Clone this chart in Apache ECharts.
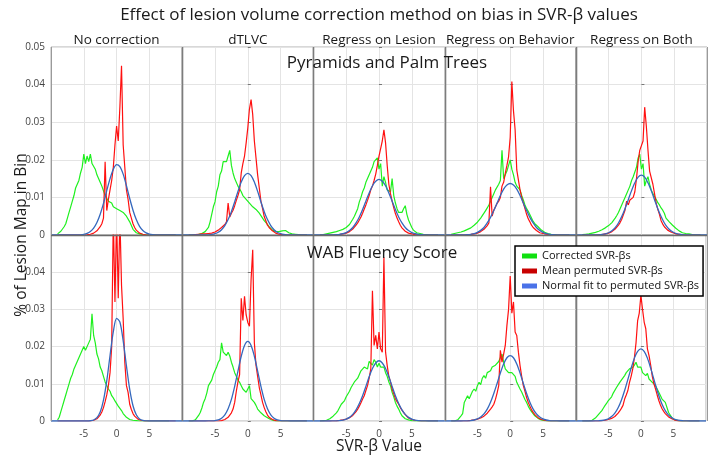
<!DOCTYPE html>
<html>
<head>
<meta charset="utf-8">
<script src="https://cdn.jsdelivr.net/npm/echarts@6/dist/echarts.min.js"></script>
<style>
  html, body { margin: 0; padding: 0; background: #fff; }
  #chart { width: 709px; height: 460px; }
</style>
</head>
<body>
<div id="chart"></div>
<script>
// ---- labels ----
const chartTitle = 'Effect of lesion volume correction method on bias in SVR-β values'
const methods = ['No correction', 'dTLVC', 'Regress on Lesion', 'Regress on Behavior', 'Regress on Both']
const tasks = ['Pyramids and Palm Trees', 'WAB Fluency Score']
const seriesNames = ['Corrected SVR-βs', 'Mean permuted SVR-βs', 'Normal fit to permuted SVR-βs']

// ---- data: bins of 0.25 from -9 to 9 (green, red); fit on 0.5 steps from -10 to 10 (blue)
// values are in units of 0.001 (% of lesion map in bin)
const greenT1 = [0.3,0.5,1.0,1.5, 2.2,3.0,4.5,6.0, 7.5,9.0,10.5,12.5, 13.5,14.5,16.5,18.0, 21.5,19.0,21.0,19.5, 21.5,19.0,18.5,17.5, 16.0,15.0,14.0,13.0, 12.5,10.5,10.0,9.0, 8.5,8.5,7.5,8.0, 7.0,7.5,6.5,7.0, 6.0,6.5,5.0,4.5, 3.5,2.5,1.5,1.0, 0.6,0.4,0.3,0.2, 0.1,0.1,0,0, 0,0,0,0, 0,0,0,0, 0,0,0,0, 0,0,0,0, 0]
const redT1 = [0,0,0,0, 0,0,0,0, 0,0,0,0, 0,0,0,0, 0,0,0.05,0.1, 0.2,0.3,0.5,0.8, 1.1,1.6,2.2,3.0, 4.5,19.5,6.5,9.5, 12.0,14.5,18.0,24.0, 29.0,25.0,34.0,45.0, 24.0,18.0,12.0,9.5, 6.0,4.5,3.0,2.0, 1.3,0.8,0.5,0.3, 0.2,0.1,0,0, 0,0,0,0, 0,0,0,0, 0,0,0,0, 0,0,0,0, 0]
const greenT2 = [0,0,0,0.1, 0.1,0.2,0.2,0.3, 0.4,0.6,0.9,1.2, 2.0,3.5,5.5,7.5, 8.8,11.5,13.0,16.0, 17.0,19.5,20.0,19.5, 21.0,22.5,18.5,16.5, 15.0,14.5,13.0,12.5, 11.5,10.5,10.5,9.5, 9.5,8.5,8.5,7.5, 7.5,6.8,6.5,5.8, 5.3,4.5,3.8,3.4, 2.8,2.2,1.7,1.3, 1.1,0.9,0.8,0.9, 1.0,1.1,1.3,1.2, 0.9,0.6,0.4,0.3, 0.3,0.2,0.1,0.1, 0,0,0,0, 0]
const redT2 = [0,0,0,0, 0.1,0.2,0.2,0.2, 0.3,0.3,0.3,0.4, 0.4,0.4,0.5,0.6, 0.8,1.0,1.3,1.6, 2.0,2.4,2.8,3.5, 8.5,4.8,5.8,6.6, 7.8,9.2,10.5,12.0, 16.5,19.0,21.0,24.5, 28.5,33.5,36.0,32.0, 25.0,20.5,16.0,12.5, 9.0,7.0,4.9,3.8, 2.6,2.0,1.5,1.1, 0.7,0.5,0.3,0.2, 0.1,0.1,0,0, 0,0,0,0, 0,0,0,0, 0,0,0,0, 0]
const greenT3 = [0,0.1,0.1,0.2, 0.3,0.4,0.5,0.6, 0.7,0.8,0.9,1.0, 1.2,1.4,1.5,1.7, 2.0,2.4,2.8,3.2, 4.2,5.0,6.0,7.0, 8.8,10.0,11.5,12.5, 14.0,15.0,15.5,17.0, 18.0,19.5,19.0,20.5, 17.5,19.0,13.0,15.5, 14.0,12.0,12.5,11.5, 15.0,10.5,8.5,7.0, 6.0,5.5,6.0,7.0, 7.8,5.5,4.0,3.0, 2.0,1.3,0.9,0.6, 0.5,0.4,0.3,0.2, 0.1,0.1,0,0, 0,0,0,0, 0]
const redT3 = [0,0,0,0, 0,0,0,0, 0,0,0.05,0.1, 0.15,0.2,0.3,0.4, 0.5,0.7,0.9,1.2, 1.6,2.0,2.6,3.2, 4.0,4.8,5.8,6.9, 8.0,9.2,10.5,12.0, 13.0,14.5,16.2,18.5, 21.0,23.0,25.0,28.0, 24.5,18.5,13.5,11.0, 9.0,7.2,5.7,4.5, 3.5,2.6,1.9,1.4, 1.0,0.7,0.5,0.4, 0.3,0.2,0.1,0.1, 0,0,0,0, 0,0,0,0, 0,0,0,0, 0]
const greenT4 = [0.2,0.3,0.4,0.5, 0.6,0.7,0.8,0.9, 1.1,1.3,1.5,1.7, 1.9,2.2,2.6,3.0, 3.4,3.9,4.5,5.0, 5.8,6.5,7.2,8.0, 9.0,9.5,11.0,12.0, 12.5,13.5,14.5,22.5, 15.0,15.5,17.0,18.5, 20.0,17.5,16.0,14.0, 13.0,12.5,12.0,10.5, 9.3,8.0,7.0,6.3, 5.8,4.5,3.6,3.0, 2.6,2.2,1.7,1.3, 0.9,0.7,0.5,0.4, 0.3,0.2,0.2,0.1, 0.1,0,0,0, 0,0,0,0, 0]
const redT4 = [0,0,0,0, 0,0,0,0, 0,0,0.05,0.1, 0.15,0.2,0.3,0.4, 0.5,0.7,0.9,1.2, 1.5,2.0,2.5,3.2, 12.8,5.0,6.6,7.5, 8.4,9.0,10.0,13.0, 14.0,16.4,18.5,20.8, 26.0,40.8,33.0,28.0, 17.3,17.0,12.0,10.0, 8.5,7.0,5.5,4.3, 3.5,2.6,2.0,1.5, 1.2,0.8,0.6,0.5, 0.4,0.3,0.2,0.1, 0.1,0,0,0, 0,0,0,0, 0,0,0,0, 0]
const greenT5 = [0.1,0.1,0.2,0.2, 0.3,0.4,0.5,0.6, 0.7,0.8,1.0,1.2, 1.4,1.6,1.9,2.2, 2.5,2.9,3.3,3.8, 4.5,5.2,6.0,7.0, 8.0,9.0,10.0,11.0, 12.0,13.0,14.5,15.5, 16.0,18.0,20.5,21.5, 17.5,19.0,13.0,14.5, 15.5,13.5,12.0,11.0, 10.2,9.5,8.6,8.0, 7.2,6.6,5.8,4.5, 4.0,3.5,3.0,2.6, 2.2,1.8,1.4,1.1, 0.8,0.6,0.5,0.4, 0.3,0.3,0.2,0.1, 0.1,0,0,0, 0]
const redT5 = [0,0,0,0, 0,0,0,0, 0,0,0.05,0.1, 0.1,0.2,0.3,0.4, 0.5,0.7,0.9,1.2, 1.6,2.0,2.6,3.3, 4.2,5.4,6.6,9.0, 8.0,9.3,9.6,10.0, 11.5,15.0,19.5,22.5, 22.0,25.0,34.0,29.0, 22.6,17.0,17.0,13.5, 11.0,8.5,6.8,5.5, 3.8,2.9,2.2,1.7, 1.3,1.0,0.8,0.6, 0.45,0.35,0.25,0.15, 0.1,0,0,0, 0,0,0,0, 0,0,0,0, 0]

const greenB1 = [0.3,1.0,2.5,4.0, 5.5,7.0,8.5,10.0, 11.5,12.5,14.0,15.0, 16.0,17.0,18.0,17.5, 20.0,19.0,18.5,21.0, 22.0,28.8,23.0,21.0, 18.0,16.7,14.5,13.5, 12.0,10.5,10.0,8.6, 8.0,6.8,6.2,5.4, 5.0,4.0,3.4,2.8, 2.0,1.5,1.0,0.6, 0.4,0.3,0.2,0.1, 0.1,0,0,0, 0,0,0,0, 0,0,0,0, 0,0,0,0, 0,0,0,0, 0]
const redB1 = [0,0,0,0, 0,0,0,0, 0,0,0,0, 0,0,0,0, 0,0,0,0, 0.05,0.1,0.2,0.3, 0.6,1.0,1.6,2.4, 3.6,5.2,7.0,9.5, 13.0,20.0,55.0,32.0, 55.0,33.0,55.0,36.5, 27.5,15.8,9.5,7.7, 4.5,3.1,2.0,1.3, 0.9,0.5,0.3,0.2, 0.1,0,0,0, 0,0,0,0, 0,0,0,0, 0,0,0,0, 0,0,0,0, 0]
const greenB2 = [0,0,0,0, 0.3,0.8,1.5,2.3, 3.5,5.0,6.0,7.5, 9.5,10.0,11.0,12.5, 13.5,14.5,15.8,16.5, 21.0,18.5,19.0,17.6, 18.5,17.5,15.8,14.5, 13.0,12.0,11.0,10.4, 9.5,8.6,8.5,7.7, 8.0,9.5,6.0,5.9, 5.0,4.2,3.2,2.8, 2.2,1.8,1.4,1.1, 0.9,0.6,0.4,0.2, 0.1,0,0,0, 0,0,0,0, 0,0,0,0, 0,0,0,0, 0,0,0,0, 0]
const redB2 = [0,0,0,0, 0,0,0,0, 0,0,0,0, 0,0,0,0, 0,0,0,0, 0.1,0.2,0.4,0.6, 1.0,1.5,2.2,3.2, 5.0,8.0,10.5,12.5, 33.0,27.0,33.5,28.5, 26.5,25.5,38.0,46.0, 21.0,15.0,12.0,9.0, 7.0,5.0,3.6,2.5, 1.6,1.0,0.6,0.4, 0.2,0.1,0,0, 0,0,0,0, 0,0,0,0, 0,0,0,0, 0,0,0,0, 0]
const greenB3 = [0,0,0.1,0.1, 0.2,0.4,0.6,0.9, 1.3,1.8,2.2,2.8, 3.2,4.5,4.0,5.5, 6.5,7.0,8.0,9.0, 9.0,10.5,10.0,11.5, 12.5,13.5,13.0,14.5, 15.0,14.0,16.0,15.5, 15.0,16.5,15.8,14.5, 15.5,14.5,14.0,14.5, 13.0,12.0,10.5,9.5, 7.7,6.5,5.0,4.0, 3.2,2.2,1.4,1.0, 0.6,0.4,0.3,0.2, 0.1,0,0,0, 0,0,0,0, 0,0,0,0, 0,0,0,0, 0]
const redB3 = [0,0,0,0, 0,0,0,0, 0,0,0.05,0.1, 0.15,0.2,0.3,0.4, 0.5,0.7,0.9,1.2, 1.5,2.0,2.5,3.2, 4.0,4.9,5.9,6.8, 8.2,9.5,11.5,14.0, 35.0,20.3,23.0,19.4, 23.9,19.4,18.5,44.0, 18.5,14.9,12.0,10.5, 8.6,7.3,6.0,5.2, 4.5,3.6,2.9,2.3, 1.7,1.2,0.8,0.6, 0.4,0.3,0.2,0.1, 0.1,0,0,0, 0,0,0,0, 0,0,0,0, 0]
const greenB4 = [0,0,0,0.1, 0.3,0.8,1.4,2.0, 5.0,4.5,6.8,6.0, 7.0,8.0,8.6,8.0, 9.5,10.4,9.8,11.5, 12.2,11.5,13.0,12.5, 13.5,14.5,14.0,15.0, 15.3,16.0,15.5,18.0, 15.8,14.0,14.5,13.0, 13.5,13.0,13.5,12.0, 10.4,10.0,8.6,7.8, 6.8,5.8,5.0,4.0, 3.2,2.5,2.0,1.4, 1.0,0.7,0.5,0.3, 0.2,0.1,0,0, 0,0,0,0, 0,0,0,0, 0,0,0,0, 0]
const redB4 = [0,0,0,0, 0,0,0,0, 0,0,0.05,0.1, 0.15,0.2,0.3,0.4, 0.5,0.6,0.8,1.0, 1.3,1.7,2.1,2.6, 3.2,3.8,4.5,5.8, 7.5,9.5,19.0,15.8, 18.0,20.3,25.7,30.0, 39.0,29.0,32.0,23.9, 23.0,18.5,14.9,12.0, 9.5,8.0,6.3,5.0, 4.0,3.0,2.3,1.7, 1.2,0.9,0.6,0.4, 0.3,0.2,0.1,0.05, 0,0,0,0, 0,0,0,0, 0,0,0,0, 0]
const greenB5 = [0,0,0,0, 0,0.1,0.2,0.3, 0.8,1.2,1.8,2.3, 2.8,3.5,4.2,4.8, 5.5,5.0,6.5,7.5, 7.7,9.0,8.5,10.4, 11.0,11.5,12.2,13.0, 12.5,14.0,13.5,14.4, 15.0,15.8,14.5,14.0, 14.5,13.0,12.5,12.2, 12.8,11.3,11.0,10.4, 10.8,9.5,9.0,7.7, 7.5,5.9,6.0,5.0, 5.5,2.3,1.8,0.9, 0.6,0.3,0.2,0.1, 0,0,0,0, 0,0,0,0, 0,0,0,0, 0]
const redB5 = [0,0,0,0, 0,0,0,0, 0,0,0,0.05, 0.1,0.15,0.2,0.3, 0.4,0.5,0.7,0.9, 1.2,1.6,2.1,2.7, 3.4,4.2,5.9,7.0, 8.2,10.4,12.0,14.0, 17.0,21.0,27.0,29.0, 33.8,30.0,26.6,24.8, 19.4,17.6,15.0,12.0, 10.0,8.6,7.0,5.5, 4.3,3.3,2.6,2.0, 1.5,1.1,0.8,0.6, 0.4,0.2,0.1,0.05, 0,0,0,0, 0,0,0,0, 0,0,0,0, 0]

const blueT1 = [0,0,0,0,0,0,0,0,0.02,0.06,0.17,0.41,0.9,1.8,3.3,5.5,8.4,11.8,15.0,17.5,18.7,18.2,16.2,13.1,9.7,6.6,4.1,2.3,1.2,0.57,0.25,0.1,0.04,0.01,0,0,0,0,0,0,0]
const blueT2 = [0,0,0,0,0,0,0,0.02,0.06,0.15,0.35,0.72,1.4,2.5,4.1,6.2,8.8,11.6,14.1,15.8,16.4,15.8,14.1,11.6,8.8,6.2,4.1,2.5,1.4,0.72,0.35,0.15,0.06,0.02,0,0,0,0,0,0,0]
const blueT3 = [0,0,0,0,0,0.01,0.03,0.08,0.16,0.34,0.65,1.18,2.0,3.2,4.8,6.8,9.0,11.2,13.1,14.3,14.8,14.3,13.1,11.2,9.0,6.8,4.8,3.2,2.0,1.18,0.65,0.34,0.16,0.08,0.03,0.01,0,0,0,0,0]
const blueT4 = [0,0,0,0,0.01,0.02,0.04,0.09,0.19,0.37,0.7,1.23,2.0,3.2,4.7,6.5,8.5,10.5,12.2,13.3,13.7,13.3,12.2,10.5,8.5,6.5,4.7,3.2,2.0,1.23,0.7,0.37,0.19,0.09,0.04,0.02,0.01,0,0,0,0]
const blueT5 = [0,0,0,0,0,0,0.02,0.06,0.14,0.3,0.59,1.11,1.94,3.2,4.9,7.0,9.4,11.8,13.9,15.4,15.9,15.4,13.9,11.8,9.4,7.0,4.9,3.2,1.94,1.11,0.59,0.3,0.14,0.06,0.02,0,0,0,0,0,0]
const blueB1 = [0,0,0,0,0,0,0,0,0,0,0,0,0.07,0.27,0.89,2.4,5.6,10.8,17.6,24.0,27.6,26.6,21.6,14.8,8.5,4.1,1.66,0.56,0.16,0.04,0,0,0,0,0,0,0,0,0,0,0]
const blueB2 = [0,0,0,0,0,0,0,0,0.01,0.04,0.12,0.31,0.76,1.67,3.3,5.8,9.3,13.4,17.4,20.3,21.4,20.3,17.4,13.4,9.3,5.8,3.3,1.67,0.76,0.31,0.12,0.04,0.01,0,0,0,0,0,0,0,0]
const blueB3 = [0,0,0,0,0,0,0.02,0.05,0.11,0.25,0.51,0.98,1.77,3.0,4.7,6.8,9.3,11.9,14.1,15.6,16.2,15.6,14.1,11.9,9.3,6.8,4.7,3.0,1.77,0.98,0.51,0.25,0.11,0.05,0.02,0,0,0,0,0,0]
const blueB4 = [0,0,0,0,0,0,0.02,0.05,0.12,0.27,0.55,1.07,1.92,3.2,5.05,7.4,10.1,12.9,15.3,17.0,17.6,17.0,15.3,12.9,10.1,7.4,5.05,3.2,1.92,1.07,0.55,0.27,0.12,0.05,0.02,0,0,0,0,0,0]
const blueB5 = [0,0,0,0,0,0,0.02,0.06,0.13,0.29,0.61,1.18,2.1,3.55,5.6,8.2,11.2,14.2,16.9,18.7,19.4,18.7,16.9,14.2,11.2,8.2,5.6,3.55,2.1,1.18,0.61,0.29,0.13,0.06,0.02,0,0,0,0,0,0]

const greens = [greenT1, greenT2, greenT3, greenT4, greenT5, greenB1, greenB2, greenB3, greenB4, greenB5]
const reds = [redT1, redT2, redT3, redT4, redT5, redB1, redB2, redB3, redB4, redB5]
const blues = [blueT1, blueT2, blueT3, blueT4, blueT5, blueB1, blueB2, blueB3, blueB4, blueB5]

// bin centres
const binX = Array.from({ length: 73 }, (_, i) => -9 + i * 0.25)
const fitX = Array.from({ length: 41 }, (_, i) => -10 + i * 0.5)

// ---- colours / layout ----
const colors = {
  green: '#1ff01f',
  red: '#ff1010',
  blue: '#3568bd',
  legendGreen: '#10e010',
  legendRed: '#c80000',
  legendBlue: '#4a72e8',
  split: '#e4e4e4',
  frame: '#7c7c7c',
  text: '#1a1a1a'
}
const font = '"Open Sans", "Noto Sans", sans-serif'
const plotLeft = 51
const panelW = 131.2
const rowTop = [47, 235]
const rowH = [188, 186]

const toPairs = (xs, ys) => ys.map((v, i) => [xs[i], v / 1000])

const grids = []
const xAxes = []
const yAxes = []
const series = []

for (let r = 0; r < 2; r++) {
  for (let c = 0; c < 5; c++) {
    const p = r * 5 + c
    grids.push({
      left: plotLeft + c * panelW,
      top: rowTop[r],
      width: panelW,
      height: rowH[r],
      show: true,
      borderColor: '#b0b0b0',
      borderWidth: 1,
      backgroundColor: 'transparent'
    })
    xAxes.push({
      type: 'value',
      gridIndex: p,
      min: -10,
      max: 10,
      interval: 5,
      axisLine: { show: false },
      axisTick: { show: false },
      axisLabel: {
        show: r === 1,
        color: '#444',
        fontSize: 10,
        fontFamily: font,
        margin: 8,
        formatter: v => (v === -10 || v === 10 ? '' : String(v))
      },
      splitLine: { show: true, lineStyle: { color: colors.split, width: 1 } }
    })
    yAxes.push({
      type: 'value',
      gridIndex: p,
      min: 0,
      max: 0.05,
      interval: 0.01,
      axisLine: { show: false },
      axisTick: { show: c > 0, inside: true, length: 3, lineStyle: { color: '#777' } },
      axisLabel: {
        show: c === 0,
        color: '#444',
        fontSize: 10,
        fontFamily: font,
        margin: 6,
        formatter: v => {
          if (r === 1 && Math.abs(v - 0.05) < 1e-9) return ''
          return v === 0 ? '0' : v.toFixed(2)
        }
      },
      splitLine: { show: true, lineStyle: { color: colors.split, width: 1 } }
    })
    series.push({
      name: seriesNames[0],
      type: 'line',
      xAxisIndex: p,
      yAxisIndex: p,
      showSymbol: false,
      symbol: 'none',
      clip: true,
      z: 2,
      itemStyle: { color: colors.legendGreen },
      lineStyle: { color: colors.green, width: 1.2 },
      data: toPairs(binX, greens[p])
    })
    series.push({
      name: seriesNames[1],
      type: 'line',
      xAxisIndex: p,
      yAxisIndex: p,
      showSymbol: false,
      symbol: 'none',
      clip: true,
      z: 3,
      itemStyle: { color: colors.legendRed },
      lineStyle: { color: colors.red, width: 1.2 },
      data: toPairs(binX, reds[p])
    })
    series.push({
      name: seriesNames[2],
      type: 'line',
      xAxisIndex: p,
      yAxisIndex: p,
      showSymbol: false,
      symbol: 'none',
      smooth: 0.3,
      clip: true,
      z: 4,
      itemStyle: { color: colors.legendBlue },
      lineStyle: { color: colors.blue, width: 1.3 },
      data: toPairs(fitX, blues[p])
    })
  }
}

// ---- texts ----
const texts = [
  { x: 379, y: 15, text: chartTitle, size: 17 },
  { x: 387, y: 63, text: tasks[0], size: 17 },
  { x: 382, y: 253, text: tasks[1], size: 17 },
  { x: 379, y: 447, text: 'SVR-β Value', size: 15.5 }
]
methods.forEach((m, c) => {
  texts.push({ x: plotLeft + c * panelW + panelW / 2, y: 40, text: m, size: 13.5 })
})

const graphic = texts.map(t => ({
  type: 'text',
  x: t.x,
  y: t.y,
  z: 100,
  style: {
    text: t.text,
    fill: colors.text,
    font: `${t.size}px ${font}`,
    align: 'center',
    verticalAlign: 'middle',
    textAlign: 'center',
    textVerticalAlign: 'middle'
  }
}))
graphic.push({
  type: 'text',
  x: 22,
  y: 235,
  rotation: Math.PI / 2,
  z: 100,
  style: {
    text: '% of Lesion Map in Bin',
    fill: colors.text,
    font: `15.5px ${font}`,
    align: 'center',
    verticalAlign: 'middle',
    textAlign: 'center',
    textVerticalAlign: 'middle'
  }
})
// panel dividers and the line between the two rows
for (let c = 0; c <= 5; c++) {
  const x = Math.round(plotLeft + c * panelW) + 0.5
  graphic.push({
    type: 'line',
    z: 50,
    shape: { x1: x, y1: rowTop[0], x2: x, y2: rowTop[1] + rowH[1] },
    style: { stroke: c === 0 || c === 5 ? '#9a9a9a' : colors.frame, lineWidth: c === 0 || c === 5 ? 1 : 1.6 }
  })
}
graphic.push({
  type: 'line',
  z: 50,
  shape: { x1: plotLeft, y1: rowTop[1] + 0.5, x2: plotLeft + 5 * panelW, y2: rowTop[1] + 0.5 },
  style: { stroke: '#6a6a6a', lineWidth: 1.4 }
})

const chart = echarts.init(document.getElementById('chart'), null, { renderer: 'canvas' })
chart.setOption({
  animation: false,
  backgroundColor: '#fff',
  grid: grids,
  xAxis: xAxes,
  yAxis: yAxes,
  legend: {
    data: seriesNames,
    orient: 'vertical',
    left: 515,
    top: 246,
    z: 60,
    icon: 'rect',
    itemWidth: 15,
    itemHeight: 5,
    itemGap: 1,
    padding: [3, 4, 3, 7],
    backgroundColor: '#fff',
    borderColor: '#000',
    borderWidth: 1.5,
    textStyle: { color: '#111', fontSize: 11, lineHeight: 14, fontFamily: font }
  },
  graphic: graphic,
  series: series
})
</script>
</body>
</html>
